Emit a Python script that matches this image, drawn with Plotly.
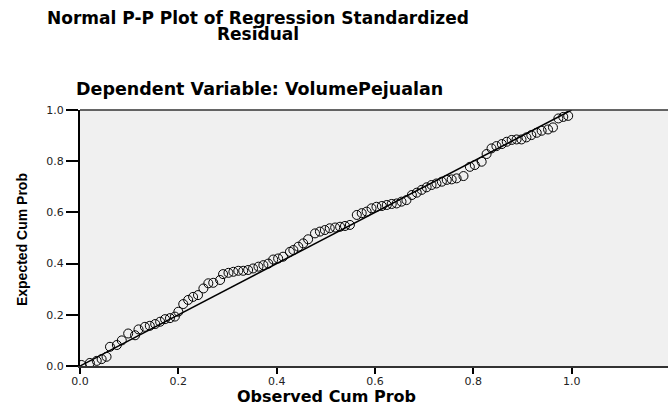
import plotly.graph_objects as go

observed = [0.003, 0.020, 0.034, 0.044, 0.054, 0.061, 0.075, 0.085, 0.098, 0.112,
            0.119, 0.132, 0.142, 0.153, 0.163, 0.173, 0.183, 0.193, 0.200, 0.210,
            0.220, 0.230, 0.240, 0.251, 0.261, 0.271, 0.285, 0.291, 0.302, 0.312,
            0.322, 0.332, 0.342, 0.352, 0.363, 0.373, 0.383, 0.393, 0.403, 0.413,
            0.427, 0.434, 0.444, 0.454, 0.464, 0.478, 0.488, 0.498, 0.508, 0.519,
            0.529, 0.539, 0.549, 0.563, 0.573, 0.583, 0.593, 0.603, 0.614, 0.624,
            0.634, 0.644, 0.654, 0.664, 0.675, 0.685, 0.695, 0.705, 0.715, 0.725,
            0.736, 0.746, 0.756, 0.766, 0.780, 0.793, 0.803, 0.817, 0.827, 0.837,
            0.847, 0.858, 0.868, 0.878, 0.888, 0.898, 0.908, 0.918, 0.929, 0.939,
            0.952, 0.962, 0.973, 0.983, 0.993]
expected = [0.004, 0.012, 0.020, 0.027, 0.036, 0.075, 0.082, 0.100, 0.127, 0.120,
            0.143, 0.153, 0.157, 0.164, 0.173, 0.183, 0.187, 0.193, 0.212, 0.242,
            0.258, 0.270, 0.277, 0.303, 0.323, 0.325, 0.336, 0.359, 0.364, 0.368,
            0.372, 0.372, 0.375, 0.381, 0.388, 0.394, 0.400, 0.416, 0.420, 0.427,
            0.446, 0.453, 0.466, 0.479, 0.495, 0.518, 0.525, 0.531, 0.538, 0.541,
            0.544, 0.547, 0.551, 0.590, 0.597, 0.603, 0.616, 0.622, 0.625, 0.629,
            0.633, 0.635, 0.642, 0.648, 0.668, 0.677, 0.688, 0.698, 0.707, 0.713,
            0.720, 0.727, 0.729, 0.733, 0.742, 0.778, 0.785, 0.798, 0.828, 0.850,
            0.859, 0.867, 0.876, 0.883, 0.885, 0.885, 0.893, 0.902, 0.911, 0.919,
            0.924, 0.932, 0.967, 0.973, 0.977]
ref_line = [0.0, 1.0]
tick_vals = [0.0, 0.2, 0.4, 0.6, 0.8, 1.0]
tick_text = ["0.0", "0.2", "0.4", "0.6", "0.8", "1.0"]

title_font = dict(family="DejaVu Sans", size=17, color="black")

fig = go.Figure()
fig.add_trace(go.Scatter(x=ref_line, y=ref_line, mode="lines",
                         line=dict(color="black", width=1.5), showlegend=False,
                         hoverinfo="skip"))
fig.add_trace(go.Scatter(x=observed, y=expected, mode="markers",
                         marker=dict(symbol="circle-open", size=9,
                                     line=dict(color="black", width=1), color="black"),
                         showlegend=False))

fig.update_layout(
    width=668, height=405,
    margin=dict(l=80, r=0, t=110, b=39),
    paper_bgcolor="white", plot_bgcolor="#f0f0f0",
    xaxis=dict(range=[0, 1.196], tickvals=tick_vals, ticktext=tick_text,
               showgrid=False, zeroline=False, showline=True, linecolor="#333",
               linewidth=2, ticks="outside", ticklen=6, tickwidth=2, tickcolor="black",
               ticklabelstandoff=-2,
               tickfont=dict(family="DejaVu Sans", size=11, color="#222")),
    yaxis=dict(range=[0, 1.0], tickvals=tick_vals, ticktext=tick_text,
               showgrid=False, zeroline=False, showline=True, linecolor="black",
               linewidth=2, ticks="outside", ticklen=12, tickwidth=1.5, tickcolor="black",
               tickfont=dict(family="DejaVu Sans", size=11, color="#222")),
    shapes=[dict(type="line", xref="paper", yref="paper", x0=0, x1=1, y0=1, y1=1,
                 line=dict(color="#333", width=1.5))],
    annotations=[
        dict(text="<b>Normal P-P Plot of Regression Standardized</b>", xref="paper", yref="paper",
             x=0.303, y=1.358, xanchor="center", yanchor="middle", showarrow=False, font=title_font),
        dict(text="<b>Residual</b>", xref="paper", yref="paper",
             x=0.303, y=1.298, xanchor="center", yanchor="middle", showarrow=False, font=title_font),
        dict(text="<b>Dependent Variable: VolumePejualan</b>", xref="paper", yref="paper",
             x=0.306, y=1.082, xanchor="center", yanchor="middle", showarrow=False,
             font=dict(family="DejaVu Sans", size=17.5, color="black")),
        dict(text="<b>Observed Cum Prob</b>", xref="paper", yref="paper",
             x=0.4184, y=-0.119, xanchor="center", yanchor="middle", showarrow=False,
             font=dict(family="DejaVu Sans", size=16, color="black")),
        dict(text="<b>Expected Cum Prob</b>", xref="paper", yref="paper",
             x=-0.0986, y=0.492, xanchor="center", yanchor="middle", showarrow=False,
             textangle=-90, font=dict(family="Liberation Sans", size=14, color="black")),
    ],
)

fig.write_html("out.html", config={"displayModeBar": False},
               post_script="document.body.style.margin='0';document.body.style.overflow='hidden';")
